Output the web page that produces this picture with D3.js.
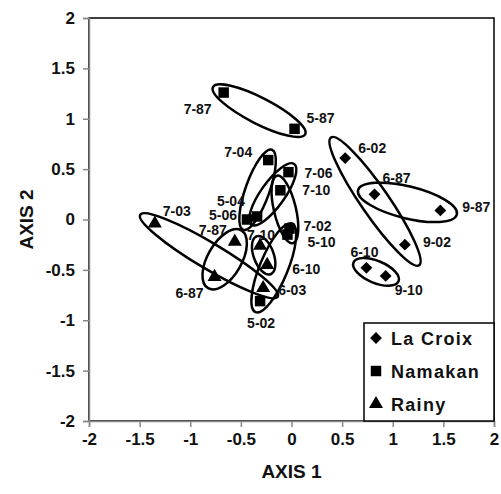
<!DOCTYPE html>
<html>
<head>
<meta charset="utf-8">
<script src="https://cdn.jsdelivr.net/npm/d3@7"></script>
<style>
  body { margin: 0; background: #fff; }
  text { font-family: "Liberation Sans", Arial, sans-serif; font-weight: bold; fill: #111; }
</style>
</head>
<body>
<svg id="chart" width="501" height="494"></svg>
<script>
// ordination scores
var sites = ["La Croix", "Namakan", "Rainy"];

var laCroixLabels = ["6-02", "6-87", "9-87", "9-02", "6-10", "9-10"];
var laCroixAxis1  = [0.53, 0.82, 1.47, 1.12, 0.74, 0.93];
var laCroixAxis2  = [0.61, 0.25, 0.09, -0.25, -0.48, -0.56];

var namakanLabels = ["7-87", "5-87", "7-04", "7-06", "7-10", "5-04", "5-06", "7-02", "5-10", "5-02"];
var namakanAxis1  = [-0.67, 0.03, -0.23, -0.03, -0.11, -0.44, -0.34, -0.02, -0.04, -0.31];
var namakanAxis2  = [1.26, 0.90, 0.59, 0.47, 0.29, 0.00, 0.03, -0.09, -0.15, -0.81];

var rainyLabels = ["7-03", "7-87", "6-87", "7-10", "6-10", "6-03"];
var rainyAxis1  = [-1.35, -0.56, -0.76, -0.31, -0.24, -0.28];
var rainyAxis2  = [-0.04, -0.22, -0.57, -0.26, -0.45, -0.68];

// which two samples each ellipse joins
var ellipseSite = ["La Croix", "La Croix", "La Croix", "Namakan", "Namakan", "Namakan", "Namakan", "Namakan", "Rainy", "Rainy", "Rainy"];
var ellipseFrom = ["6-02", "6-87", "6-10", "7-87", "7-04", "7-06", "7-10", "5-10", "7-03", "7-87", "7-10"];
var ellipseTo   = ["9-02", "9-87", "9-10", "5-87", "5-04", "5-06", "7-02", "5-02", "6-03", "6-87", "6-10"];

var tickValues = [-2, -1.5, -1, -0.5, 0, 0.5, 1, 1.5, 2];

// drawing settings (pixels)
var ellipseStyle = [[25, 14], [17, 16], [14, 11], [12, 13], [11, 12], [10, 12], [15, 11], [12, 14], [17, 13], [13, 17], [10, 10]];

var labelPlace = {
    "La Croix|6-02": ["start", 13, -5],
    "La Croix|6-87": ["start", 8, -11],
    "La Croix|9-87": ["start", 22, 2],
    "La Croix|9-02": ["start", 18, 2],
    "La Croix|6-10": ["middle", -2, -11],
    "La Croix|9-10": ["start", 9, 19],
    "Namakan|7-87": ["end", -12, 21],
    "Namakan|5-87": ["start", 12, -6],
    "Namakan|7-04": ["end", -16, -3],
    "Namakan|7-06": ["start", 16, 6],
    "Namakan|7-10": ["start", 22, 5],
    "Namakan|5-04": ["end", -2, -14],
    "Namakan|5-06": ["end", -20, 4],
    "Namakan|7-02": ["start", 14, 2],
    "Namakan|5-10": ["start", 20, 12],
    "Namakan|5-02": ["middle", 1, 27],
    "Rainy|7-03": ["start", 8, -8],
    "Rainy|7-87": ["end", -8, -7],
    "Rainy|6-87": ["end", -11, 21],
    "Rainy|7-10": ["start", -13, -6],
    "Rainy|6-10": ["start", 25, 9],
    "Rainy|6-03": ["start", 15, 7]
};

var svg = d3.select("#chart");
var plotLeft = 89, plotRight = 494, plotTop = 18, plotBottom = 421;

var x = d3.scaleLinear().domain([-2, 2]).range([plotLeft, plotRight]);
var y = d3.scaleLinear().domain([-2, 2]).range([plotBottom, plotTop]);

function build(site, labels, a1, a2) {
    return labels.map(function(l, i) { return {site: site, label: l, x: a1[i], y: a2[i]}; });
}
var points = build("La Croix", laCroixLabels, laCroixAxis1, laCroixAxis2)
    .concat(build("Namakan", namakanLabels, namakanAxis1, namakanAxis2))
    .concat(build("Rainy", rainyLabels, rainyAxis1, rainyAxis2));

function find(site, label) {
    return points.find(function(p) { return p.site === site && p.label === label; });
}

// plot frame
svg.append("rect")
    .attr("x", plotLeft).attr("y", plotTop)
    .attr("width", plotRight - plotLeft).attr("height", plotBottom - plotTop)
    .attr("fill", "none").attr("stroke", "#000").attr("stroke-width", 1.5);

var fmt = function(d) { return String(d); };

var xAxis = svg.append("g")
    .attr("transform", "translate(0," + plotBottom + ")")
    .call(d3.axisBottom(x).tickValues(tickValues).tickFormat(fmt).tickSize(6).tickPadding(6));
var yAxis = svg.append("g")
    .attr("transform", "translate(" + plotLeft + ",0)")
    .call(d3.axisLeft(y).tickValues(tickValues).tickFormat(fmt).tickSize(6).tickPadding(8));

[xAxis, yAxis].forEach(function(g) {
    g.select(".domain").attr("stroke", "#888").attr("stroke-width", 1.5);
    g.selectAll(".tick line").attr("stroke", "#888").attr("stroke-width", 1.5);
    g.selectAll(".tick text")
        .style("font-family", "'Liberation Sans', Arial, sans-serif")
        .style("font-weight", "bold")
        .style("font-size", "17px")
        .attr("fill", "#111");
});

// axis titles
svg.append("text")
    .attr("x", (plotLeft + plotRight) / 2).attr("y", 478)
    .attr("text-anchor", "middle")
    .style("font-size", "19px")
    .text("AXIS 1");
svg.append("text")
    .attr("transform", "translate(33," + ((plotTop + plotBottom) / 2) + ") rotate(-90)")
    .attr("text-anchor", "middle")
    .style("font-size", "19px")
    .text("AXIS 2");

// ellipses around paired samples
var ellipses = ellipseSite.map(function(s, i) {
    var p = find(s, ellipseFrom[i]), q = find(s, ellipseTo[i]);
    var x1 = x(p.x), y1 = y(p.y), x2 = x(q.x), y2 = y(q.y);
    var half = Math.sqrt((x2 - x1) * (x2 - x1) + (y2 - y1) * (y2 - y1)) / 2;
    return {
        cx: (x1 + x2) / 2, cy: (y1 + y2) / 2,
        angle: Math.atan2(y2 - y1, x2 - x1) * 180 / Math.PI,
        rx: half + ellipseStyle[i][0], ry: ellipseStyle[i][1]
    };
});

svg.append("g").selectAll("ellipse")
    .data(ellipses).enter()
    .append("ellipse")
    .attr("transform", function(d) { return "translate(" + d.cx + "," + d.cy + ") rotate(" + d.angle + ")"; })
    .attr("rx", function(d) { return d.rx; })
    .attr("ry", function(d) { return d.ry; })
    .attr("fill", "none")
    .attr("stroke", "#000")
    .attr("stroke-width", 2.5);

// markers
var shapes = {
    "La Croix": d3.symbol().type(d3.symbolSquare).size(70),
    "Namakan": d3.symbol().type(d3.symbolSquare).size(110),
    "Rainy": d3.symbol().type(d3.symbolTriangle).size(85)
};
var shapeRotate = {"La Croix": 45, "Namakan": 0, "Rainy": 0};

svg.append("g").selectAll("path")
    .data(points).enter()
    .append("path")
    .attr("d", function(d) { return shapes[d.site](); })
    .attr("transform", function(d) { return "translate(" + x(d.x) + "," + y(d.y) + ") rotate(" + shapeRotate[d.site] + ")"; })
    .attr("fill", "#000");

// sample labels
svg.append("g").selectAll("text")
    .data(points).enter()
    .append("text")
    .attr("x", function(d) { return x(d.x) + labelPlace[d.site + "|" + d.label][1]; })
    .attr("y", function(d) { return y(d.y) + labelPlace[d.site + "|" + d.label][2]; })
    .attr("text-anchor", function(d) { return labelPlace[d.site + "|" + d.label][0]; })
    .style("font-size", "14px")
    .text(function(d) { return d.label; });

// legend
var legend = svg.append("g");
legend.append("rect")
    .attr("x", 364).attr("y", 323)
    .attr("width", plotRight - 364).attr("height", plotBottom - 323)
    .attr("fill", "#fff").attr("stroke", "#000").attr("stroke-width", 1.5);

var rows = legend.selectAll(".row")
    .data(sites).enter()
    .append("g")
    .attr("transform", function(d, i) { return "translate(376," + (338 + i * 33) + ")"; });
rows.append("path")
    .attr("d", function(d) { return shapes[d](); })
    .attr("transform", function(d) { return "rotate(" + shapeRotate[d] + ")"; })
    .attr("fill", "#000");
rows.append("text")
    .attr("x", 15).attr("y", 7)
    .style("font-size", "18px")
    .style("letter-spacing", "1.3px")
    .text(function(d) { return d; });
</script>
</body>
</html>
